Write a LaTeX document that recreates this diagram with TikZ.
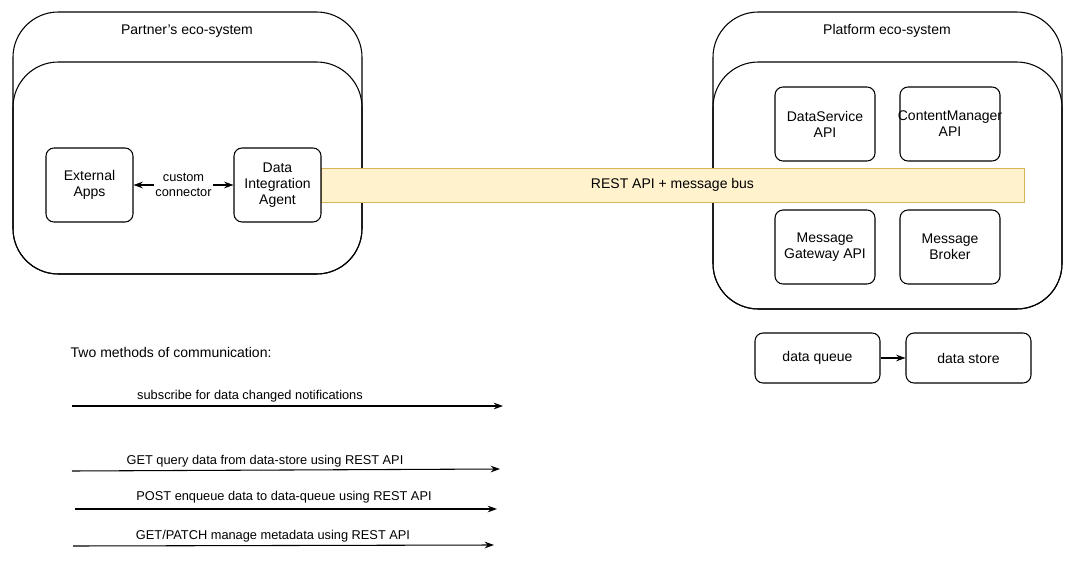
\documentclass[tikz,border=0pt]{standalone}
\usepackage{fontspec}
\setmainfont{Liberation Sans}
\usetikzlibrary{positioning,arrows.meta}
\begin{document}
\begin{tikzpicture}[
    x=0.75pt, y=-0.75pt, >={Stealth[length=7pt,width=5pt]},
    font=\fontsize{10.5}{12}\selectfont,
    eco/.style={draw=black, rounded corners=34pt, line width=0.8pt},
    box/.style={draw=black, rounded corners=6pt, line width=0.8pt, align=center},
    lbl/.style={font=\fontsize{9.6}{11}\selectfont, inner sep=1pt}
  ]
  \useasboundingbox (0,0) rectangle (1079,564);

  % eco-systems
  \draw[eco] (13,12) rectangle (362,274);
  \draw[eco] (13,62) rectangle (362,274);
  \node (partner) at (187,31) {Partner's eco-system};
  \draw[eco] (713,12) rectangle (1062,309);
  \draw[eco] (713,62) rectangle (1062,309);
  \node (platform) at (887,31) {Platform eco-system};

  % bus
  \node[draw={rgb,255:red,214;green,182;blue,86}, fill={rgb,255:red,255;green,242;blue,204},
        minimum width=703*0.75pt, minimum height=34*0.75pt] (bus) at (672.5,185) {REST API + message bus};

  % partner side
  \node[box, minimum width=87*0.75pt, minimum height=74*0.75pt] (apps) at (89.5,185) {External\\Apps};
  \node[box, fill=white, minimum width=87*0.75pt, minimum height=74*0.75pt] (agent) at (277.5,185) {Data\\Integration\\Agent};
  \draw[<->, line width=0.8pt] (apps) -- (agent)
    node[midway, lbl, fill=white, align=center] (conn) {custom\\connector};

  % platform side
  \node[box, minimum width=100*0.75pt, minimum height=74*0.75pt] (dsapi) at (825,124) {DataService\\API};
  \node[box, minimum width=100*0.75pt, minimum height=74*0.75pt, text width=100*0.75pt-8pt] (cmapi) at (950,124) {\makebox[\linewidth]{ContentManager}\\API};
  \node[box, minimum width=100*0.75pt, minimum height=74*0.75pt] (gwapi) at (825,247) {Message\\Gateway API};
  \node[box, minimum width=100*0.75pt, minimum height=74*0.75pt] (broker) at (950,247) {Message\\Broker};

  \node[box, minimum width=125*0.75pt, minimum height=50*0.75pt] (queue) at (817.5,358) {data queue};
  \node[box, minimum width=125*0.75pt, minimum height=50*0.75pt] (store) at (968.5,358) {data store};
  \draw[->, line width=0.8pt] (queue) -- (store);

  % communication methods
  \node[anchor=west] (methods) at (66,352) {Two methods of communication:};
  \coordinate (s1) at (72,406);  \coordinate (e1) at (503,406);
  \coordinate (s2) at (72,471);  \coordinate (e2) at (500,469);
  \coordinate (s3) at (75,509);  \coordinate (e3) at (497,509);
  \coordinate (s4) at (73,546);  \coordinate (e4) at (494,545);
  \draw[->, line width=0.8pt] (s1) -- (e1);
  \draw[->, line width=0.8pt] (s2) -- (e2);
  \draw[->, line width=0.8pt] (s3) -- (e3);
  \draw[->, line width=0.8pt] (s4) -- (e4);
  \node[lbl] (sub) at (250,396) {subscribe for data changed notifications};
  \node[lbl] (get) at (265,461) {GET query data from data-store using REST API};
  \node[lbl] (post) at (284,497) {POST enqueue data to data-queue using REST API};
  \node[lbl] (patch) at (273,536) {GET/PATCH manage metadata using REST API};
\end{tikzpicture}
\end{document}
